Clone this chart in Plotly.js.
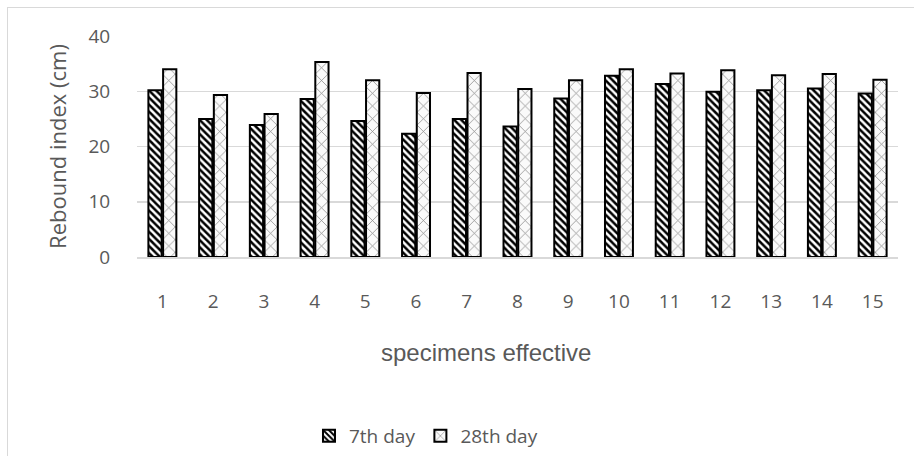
<!DOCTYPE html>
<html>
<head>
<meta charset="utf-8">
<script src="https://cdn.plot.ly/plotly-3.0.1.min.js"></script>
<style>
html,body{margin:0;padding:0;overflow:hidden;background:#fff;}
#wrap{position:relative;width:914px;height:456px;}
#frame{position:absolute;left:7px;top:7px;width:930px;height:470px;border:1.5px solid #d9d9d9;pointer-events:none;z-index:5;}
#chart{position:absolute;left:0;top:0;width:914px;height:456px;}
</style>
</head>
<body>
<div id="wrap"><div id="chart"></div><div id="frame"></div></div>
<script>
const categories = ["1","2","3","4","5","6","7","8","9","10","11","12","13","14","15"];
const day7 = [30.2,25.0,23.9,28.6,24.6,22.3,25.0,23.6,28.7,32.8,31.3,29.9,30.2,30.5,29.6];
const day28 = [34.0,29.3,25.9,35.3,32.0,29.7,33.3,30.4,32.0,34.0,33.2,33.8,32.9,33.1,32.1];
const seriesNames = ["7th day","28th day"];
const yTicks = [0,10,20,30,40];

const traces = [
  {type:"bar", x:categories, y:day7, name:seriesNames[0],
   marker:{color:"white", line:{color:"black", width:2},
     pattern:{shape:"\\", fgcolor:"black", bgcolor:"white", size:5, solidity:0.5}}},
  {type:"bar", x:categories, y:day28, name:seriesNames[1],
   marker:{color:"white", line:{color:"black", width:2},
     pattern:{shape:"x", fgcolor:"#7f7f7f", bgcolor:"#fafafa", size:9, solidity:0.15}}}
];

const txt = "#595959";
const fam = "Open Sans, sans-serif";
const layout = {
  width:914, height:456,
  margin:{l:137, r:16, t:36, b:199, autoexpand:false},
  paper_bgcolor:"white", plot_bgcolor:"white",
  barmode:"group", bargap:0.42, bargroupgap:0.1,
  font:{family:fam, color:txt, size:19},
  xaxis:{type:"category", showgrid:false, showline:true, linecolor:"#d9d9d9", linewidth:2,
    ticks:"outside", ticklen:26, tickcolor:"rgba(0,0,0,0)",
    tickfont:{size:19, color:txt, family:fam}, fixedrange:true},
  yaxis:{range:[0,40], tickvals:yTicks, showgrid:true, gridcolor:"#d9d9d9", gridwidth:1.5,
    zeroline:false, showline:false, ticks:"outside", ticklen:22, tickcolor:"rgba(0,0,0,0)",
    tickfont:{size:19, color:txt, family:fam},
    title:{text:"Rebound index (cm)", font:{size:22, color:txt, family:fam}, standoff:15}},
  showlegend:true,
  legend:{orientation:"h", x:0.226, xanchor:"left", y:-0.81, yanchor:"middle",
    font:{size:19, color:txt, family:fam}, itemwidth:30, traceorder:"normal"},
  annotations:[{text:"specimens effective", xref:"paper", yref:"paper", x:0.458, y:-0.43,
    xanchor:"center", yanchor:"middle", showarrow:false,
    font:{size:24, color:txt, family:"Liberation Sans, Arial, sans-serif"}}]
};

Plotly.newPlot("chart", traces, layout, {displayModeBar:false, staticPlot:true});
</script>
</body>
</html>
